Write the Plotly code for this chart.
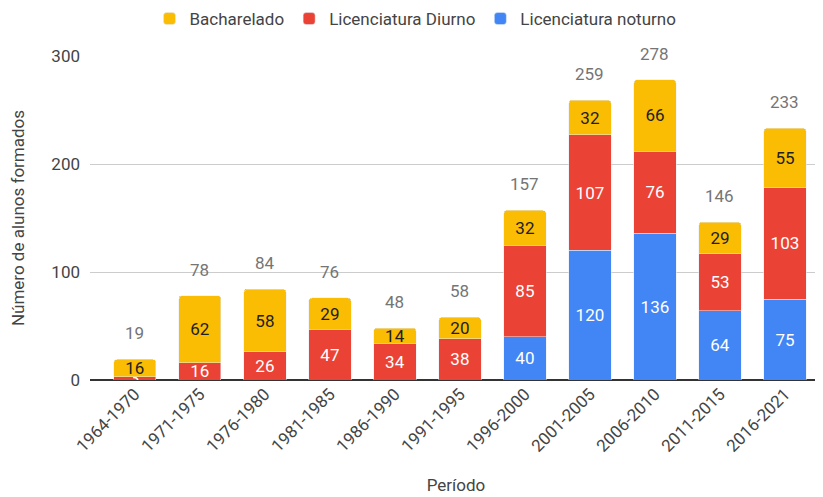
import plotly.graph_objects as go

# Data
periodos = ['1964-1970', '1971-1975', '1976-1980', '1981-1985', '1986-1990', '1991-1995',
            '1996-2000', '2001-2005', '2006-2010', '2011-2015', '2016-2021']
noturno = [0, 0, 0, 0, 0, 0, 40, 120, 136, 64, 75]
diurno = [3, 16, 26, 47, 34, 38, 85, 107, 76, 53, 103]
bacharelado = [16, 62, 58, 29, 14, 20, 32, 32, 66, 29, 55]
totais = [19, 78, 84, 76, 48, 58, 157, 259, 278, 146, 233]

FONT = 'Roboto, Arial, sans-serif'
FS = 17

def labels(vals):
    return [str(v) if v else '' for v in vals]

fig = go.Figure()

# Add traces (stack order: noturno at the bottom)
series = [
    ('Licenciatura noturno', noturno, '#4285F4', 'white'),
    ('Licenciatura Diurno', diurno, '#EA4335', 'white'),
    ('Bacharelado', bacharelado, '#FBBC04', '#202124'),
]
for name, vals, color, txtcolor in series:
    fig.add_trace(go.Bar(x=periodos, y=vals, name=name, marker_color=color,
                         text=labels(vals), textposition='inside', constraintext='none',
                         textangle=0, insidetextanchor='middle',
                         textfont=dict(color=txtcolor, size=FS, family=FONT)))

# totals above each stack
for p, t in zip(periodos, totais):
    fig.add_annotation(x=p, y=t, text=str(t), showarrow=False, yanchor='middle', yshift=26,
                       font=dict(color='#757575', size=FS, family=FONT))

# note: the page body adds an 8px offset, margins below account for it
fig.update_layout(
    width=823,
    height=497,
    barmode='stack',
    bargap=0.35,
    barcornerradius=3,
    plot_bgcolor='white',
    paper_bgcolor='white',
    font=dict(family=FONT, size=FS, color='#444444'),
    margin=dict(l=82, r=9, t=48, b=125),
    legend=dict(orientation='h', x=0.5 - 4 / 823, xanchor='center', xref='container',
                y=1 - 11 / 497, yanchor='middle', yref='container',
                traceorder='reversed', font=dict(size=FS, color='#444444')),
    xaxis=dict(title=dict(text='Período', font=dict(size=FS), standoff=24), tickangle=-45,
               range=[-0.69, 10.57], showgrid=False, ticks='', automargin=False,
               tickfont=dict(size=FS)),
    yaxis=dict(title=dict(text='Número de alunos formados', font=dict(size=FS), standoff=24),
               range=[0, 300], tickvals=[0, 100, 200, 300], showgrid=True, gridcolor='#cccccc',
               zeroline=True, zerolinecolor='#333333', zerolinewidth=1.5, ticks='',
               ticklabelstandoff=9, automargin=False, tickfont=dict(size=FS)),
)

fig.write_html("out.html")
